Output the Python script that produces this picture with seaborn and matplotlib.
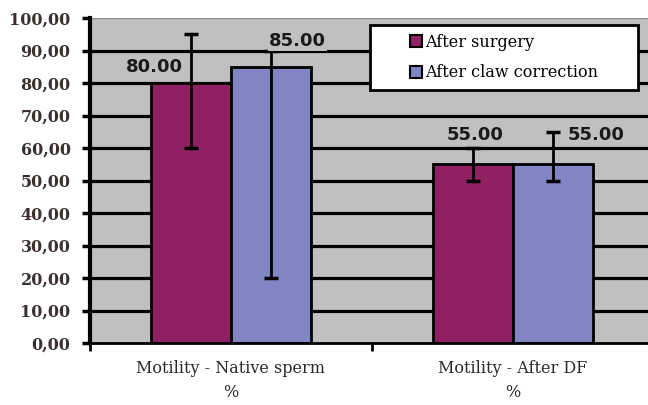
import matplotlib
matplotlib.use('agg')
import matplotlib.pyplot as plt
from matplotlib.patches import Rectangle
from matplotlib.ticker import FuncFormatter, FixedLocator
import numpy as np
import pandas as pd
import seaborn as sns

# Values
categories = ['Motility - Native sperm\n%', 'Motility - After DF\n%']
stages = ['After surgery', 'After claw correction']
after_surgery = [80.0, 55.0]
after_claw = [85.0, 55.0]
# error bar ends (low, high) per stage
surgery_low = [60.0, 50.0]
surgery_high = [95.0, 60.0]
claw_low = [20.0, 50.0]
claw_high = [90.0, 65.0]
value_labels = ['80.00', '55.00', '85.00', '55.00']

# Label offsets from the bar top centre (pixels), as Excel placed them
label_offsets = [(-36, 16), (2, 29), (26, 26), (43, 29)]

df = pd.DataFrame({
    'test': categories * 2,
    'stage': [stages[0]] * 2 + [stages[1]] * 2,
    'value': after_surgery + after_claw,
})
lows = [surgery_low, claw_low]
highs = [surgery_high, claw_high]

colors = ['#8F2163', '#8185C3']
bg = '#BFC0C0'
serif = 'DejaVu Serif'

fig = plt.figure(figsize=(6.48, 4.05), dpi=100)
ax = fig.add_axes([90 / 648, 62 / 405, 558 / 648, 325 / 405])
ax.set_facecolor(bg)

# thick black horizontal gridlines
for yv in range(10, 100, 10):
    ax.axhline(yv, color='black', linewidth=2.3, zorder=1)
ax.axhline(100, color='#8a8a8a', linewidth=1.0, zorder=1)

sns.barplot(data=df, x='test', y='value', hue='stage', palette=colors,
            hue_order=stages, order=categories, width=0.57, gap=0, saturation=1,
            edgecolor='black', linewidth=2, errorbar=None, ax=ax, zorder=2)

bar_containers = list(ax.containers)
k = 0
for i, cont in enumerate(bar_containers):
    for j, bar in enumerate(cont.patches):
        xc = bar.get_x() + bar.get_width() / 2
        h = bar.get_height()
        ax.errorbar(xc, h, yerr=[[h - lows[i][j]], [highs[i][j] - h]], fmt='none',
                    ecolor='black', elinewidth=2, capsize=5, capthick=2.5, zorder=3)
        dx, dy = label_offsets[k]
        ax.annotate(value_labels[k], (xc, h), xytext=(dx, dy), textcoords='offset pixels',
                    ha='center', va='center', fontsize=13, fontweight='bold',
                    family='DejaVu Sans', color='#1a1a1a', zorder=5,
                    bbox=dict(boxstyle='square,pad=0.05', fc=bg, ec='none'))
        k += 1

ax.set_ylim(0, 100)
ax.set_xlim(-0.5, 1.479)
ax.yaxis.set_major_locator(FixedLocator(np.arange(0, 101, 10)))
ax.yaxis.set_major_formatter(FuncFormatter(lambda v, p: f'{v:.2f}'.replace('.', ',')))
for lab in ax.get_yticklabels():
    lab.set_family(serif)
    lab.set_fontweight('bold')
    lab.set_fontsize(11.5)
    lab.set_color('#3a3030')
ax.tick_params(axis='y', direction='out', length=6, width=2.5, pad=8, color='black')

ax.set_xticks([0, 1])
ax.set_xticklabels(categories, family=serif, fontsize=11.5,
                   color='#2a2a2a', linespacing=1.6)
ax.tick_params(axis='x', length=0, pad=12)
# category boundary ticks
ax.set_xticks([-0.5, 0.5], minor=True)
ax.tick_params(axis='x', which='minor', direction='out', length=6, width=2, color='black')

ax.set_xlabel('')
ax.set_ylabel('')
for s in ['top', 'right']:
    ax.spines[s].set_visible(False)
ax.spines['left'].set_linewidth(3)
ax.spines['left'].set_zorder(4)
ax.spines['bottom'].set_linewidth(2)
ax.spines['bottom'].set_zorder(4)

# legend box as in the reference, legend entries centred inside it
box = Rectangle((0.502, 0.778), 0.480, 0.200, transform=ax.transAxes,
                facecolor='white', edgecolor='black', linewidth=2, zorder=6)
ax.add_patch(box)
leg = ax.legend(loc='center', bbox_to_anchor=(0.742, 0.878), frameon=False,
                prop={'family': serif, 'size': 11.5},
                handlelength=0.75, handleheight=0.75, handletextpad=0.2,
                labelspacing=0.85, borderpad=0, borderaxespad=0)
leg.set_zorder(7)
for h in leg.legend_handles:
    h.set_linewidth(1.5)
    h.set_edgecolor('black')

fig.savefig('out.png', dpi=100)
